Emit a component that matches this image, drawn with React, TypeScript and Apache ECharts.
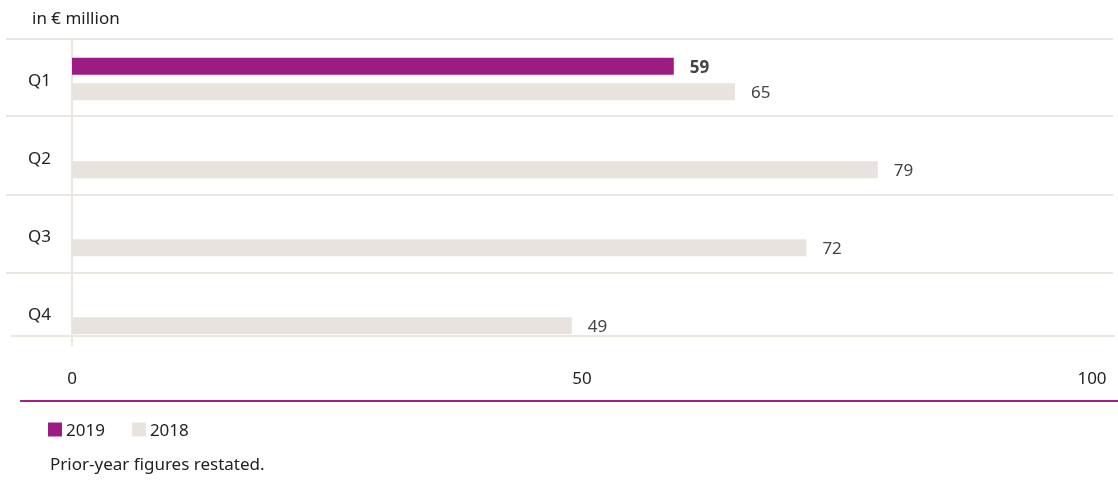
import React, { useEffect, useRef } from "react";
import * as echarts from "echarts";

const categories = ["Q1", "Q2", "Q3", "Q4"];
const values2019: (number | null)[] = [59, null, null, null];
const values2018 = [65, 79, 72, 49];
const xTicks = [0, 50, 100];
const unitLabel = "in € million";
const footnote = "Prior-year figures restated.";

const PURPLE = "#9c1c84";
const GREY = "#e8e4dd";
const LINE = "#ebe6df";
const FONT = "'Noto Sans', 'Open Sans', sans-serif";

export default function App() {
  const ref = useRef<HTMLDivElement>(null);
  useEffect(() => {
    if (!ref.current) return;
    const chart = echarts.init(ref.current, undefined, { renderer: "svg" });
    const sepYs = [39, 116, 195, 273];
    const graphics: any[] = sepYs.map((y) => ({
      type: "line",
      shape: { x1: 6, y1: y, x2: 1113, y2: y },
      style: { stroke: LINE, lineWidth: 2 },
      silent: true,
    }));
    graphics.push({
      type: "line",
      shape: { x1: 11, y1: 336, x2: 1115, y2: 336 },
      style: { stroke: LINE, lineWidth: 2 },
      silent: true,
    });
    graphics.push({
      type: "line",
      shape: { x1: 72, y1: 40, x2: 72, y2: 346 },
      style: { stroke: LINE, lineWidth: 2 },
      silent: true,
    });
    graphics.push({
      type: "line",
      shape: { x1: 20, y1: 401, x2: 1118, y2: 401 },
      style: { stroke: "#a3218d", lineWidth: 2 },
      silent: true,
    });
    graphics.push({
      type: "text",
      left: 32,
      top: 9,
      style: { text: unitLabel, font: `17px ${FONT}`, fill: "#222" },
    });
    graphics.push({
      type: "text",
      left: 50,
      top: 455,
      style: { text: footnote, font: `17px ${FONT}`, fill: "#222" },
    });

    chart.setOption({
      animation: false,
      textStyle: { fontFamily: FONT },
      grid: { left: 72, right: 26, top: 40, height: 312 },
      legend: {
        left: 48,
        top: 421,
        padding: 0,
        icon: "rect",
        itemWidth: 14,
        itemHeight: 14,
        itemGap: 27,
        textStyle: { fontSize: 17, color: "#222", fontFamily: FONT, padding: [0, 0, 0, -1] },
        data: ["2019", "2018"],
      },
      xAxis: {
        type: "value",
        min: 0,
        max: 100,
        interval: 50,
        axisLine: { show: false },
        axisTick: { show: false },
        splitLine: { show: false },
        axisLabel: {
          margin: 17,
          fontSize: 17,
          color: "#222",
          fontFamily: FONT,
          formatter: (v: number) => (xTicks.includes(v) ? String(v) : ""),
        },
      },
      yAxis: {
        type: "category",
        data: categories,
        inverse: true,
        axisLine: { show: false },
        axisTick: { show: false },
        splitLine: { show: false },
        axisLabel: {
          margin: 21,
          fontSize: 17,
          color: "#222",
          fontFamily: FONT,
          padding: [0, 0, 5, 0],
        },
      },
      series: [
        {
          name: "2019",
          type: "bar",
          data: values2019,
          barWidth: 17,
          barGap: "50%",
          itemStyle: { color: PURPLE },
          label: {
            show: true,
            position: "right",
            distance: 16,
            fontSize: 17,
            fontWeight: "bold",
            color: "#444",
            fontFamily: FONT,
          },
        },
        {
          name: "2018",
          type: "bar",
          data: values2018,
          barWidth: 17,
          barGap: "50%",
          itemStyle: { color: GREY },
          label: {
            show: true,
            position: "right",
            distance: 16,
            fontSize: 17,
            color: "#444",
            fontFamily: FONT,
          },
        },
      ],
      graphic: graphics,
    });
    return () => chart.dispose();
  }, []);
  return (
    <div
      ref={ref}
      style={{ position: "fixed", left: 0, top: 0, width: 1118, height: 480 }}
    />
  );
}
